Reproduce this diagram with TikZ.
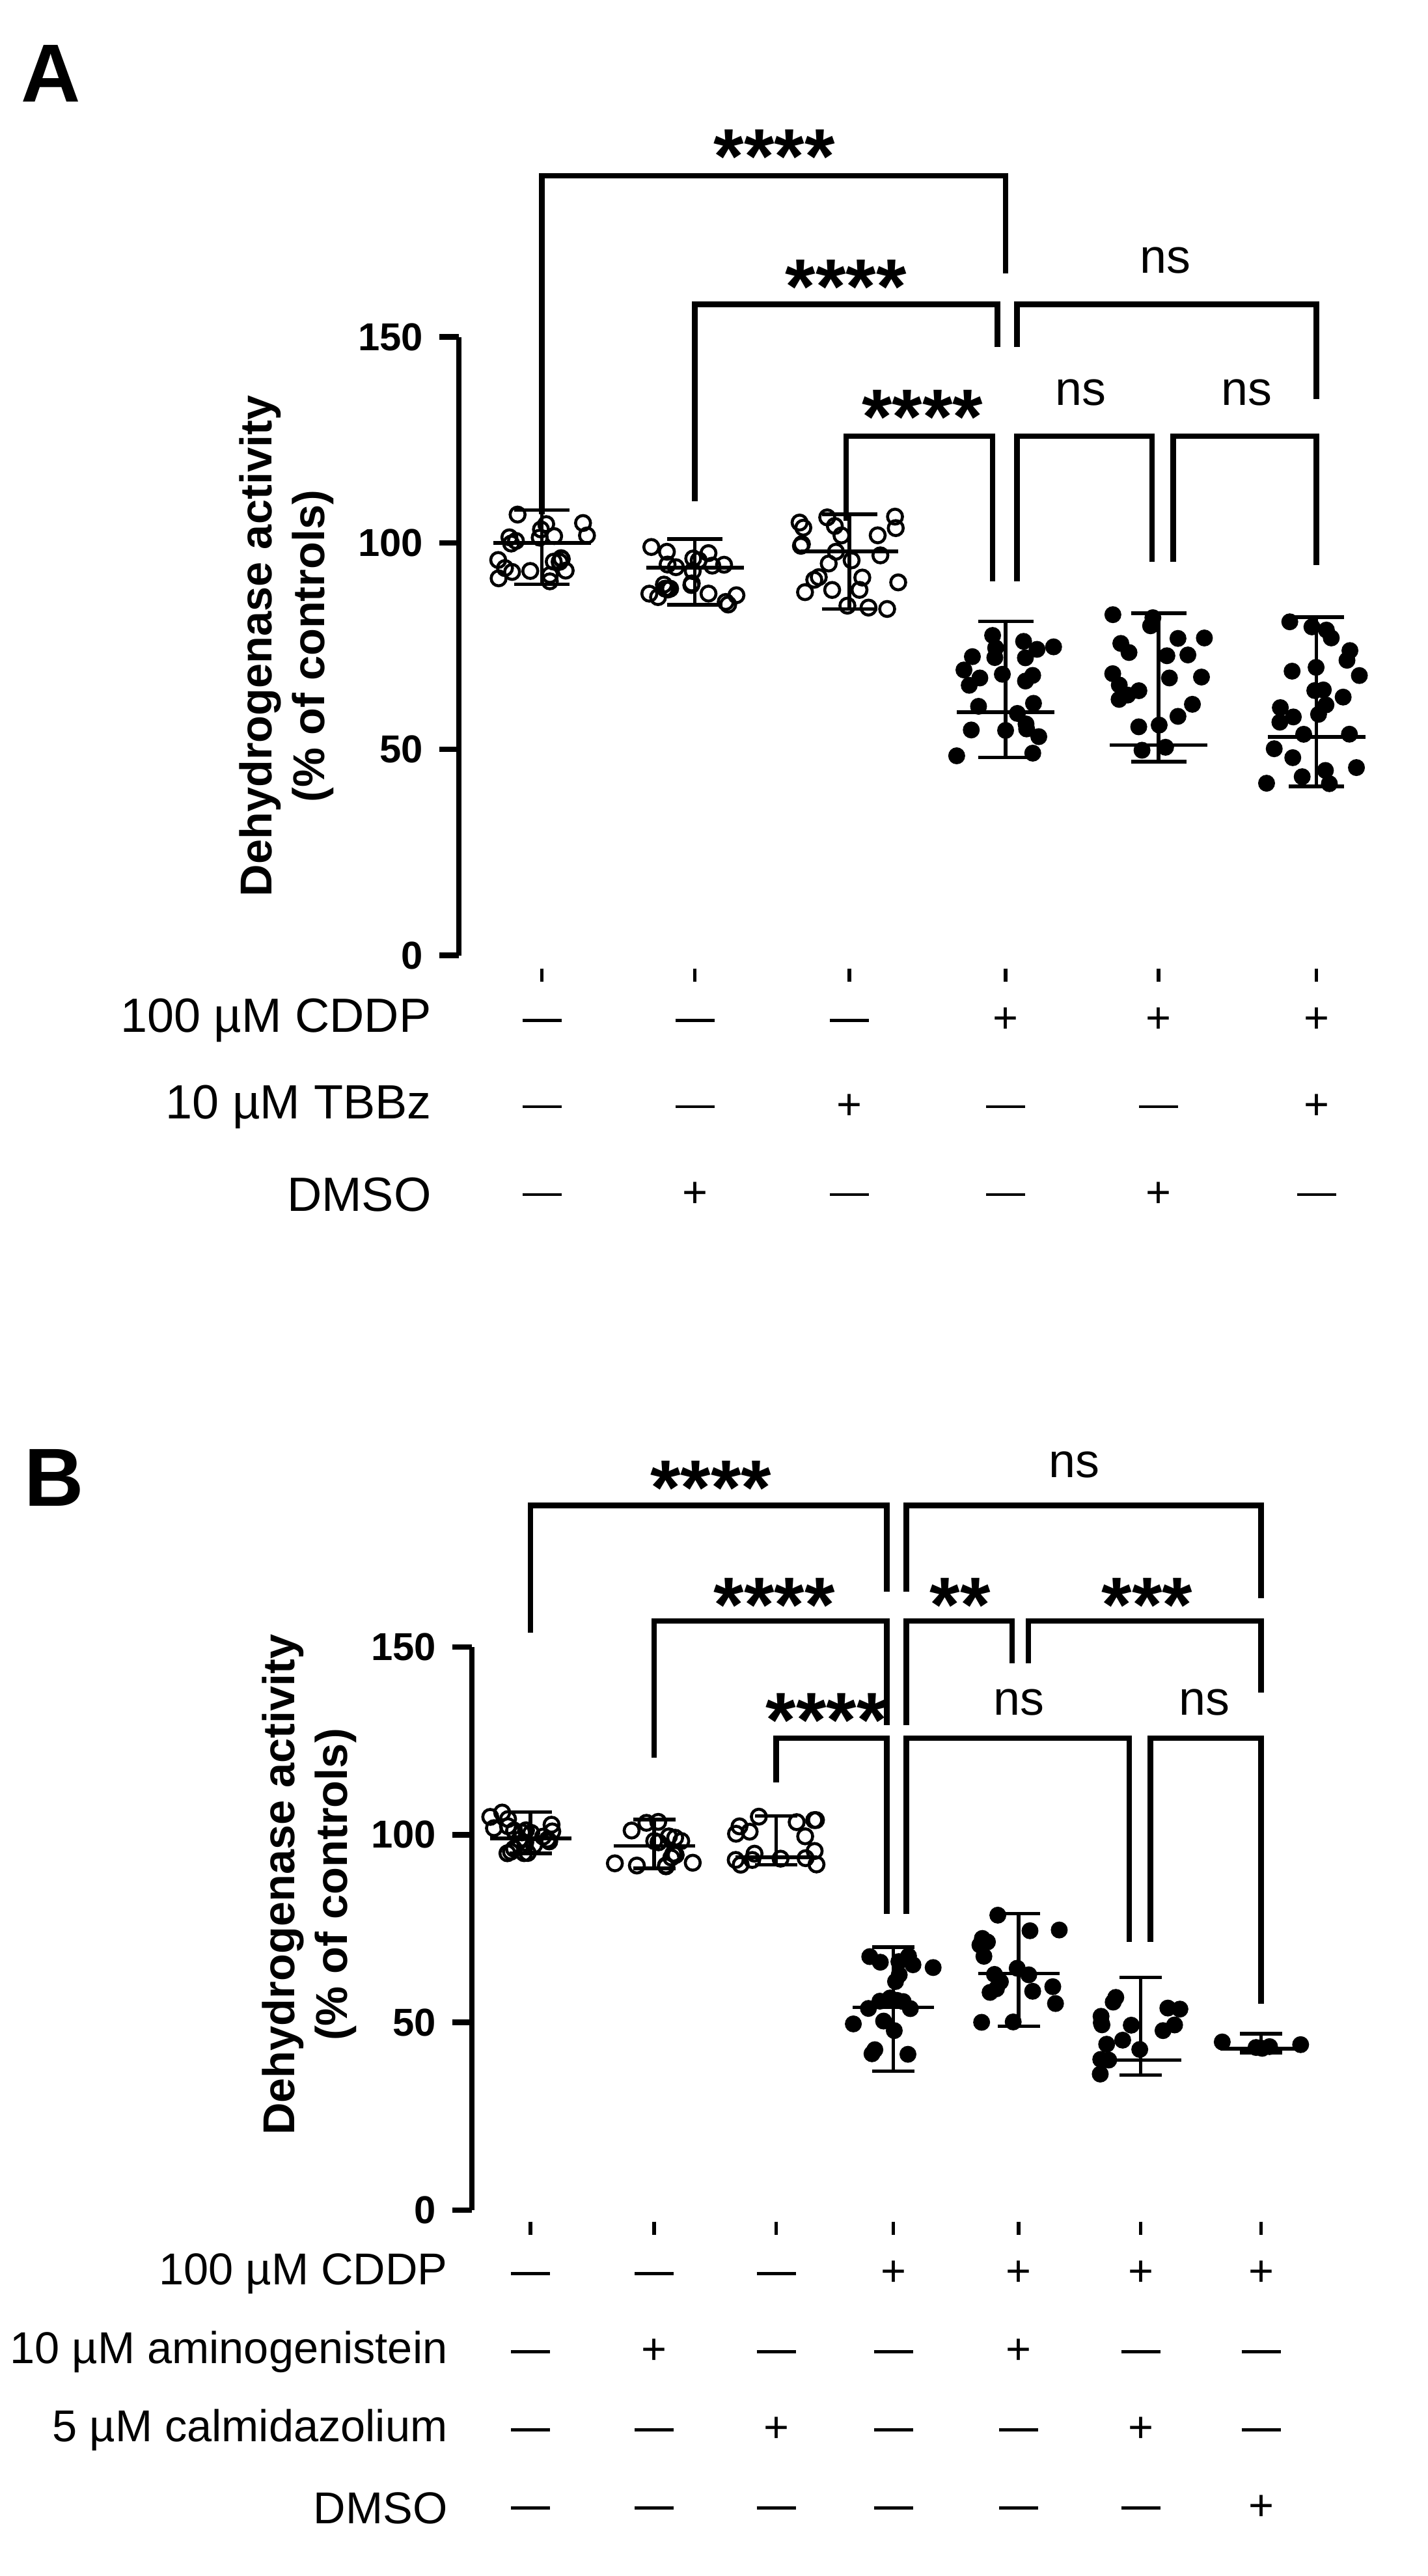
\documentclass[tikz,border=0pt]{standalone}
\usepackage{fontspec}
\setmainfont{Liberation Sans}
\usetikzlibrary{positioning}
\tikzset{
  axis/.style={line width=2.4pt},
  brk/.style={line width=2.4pt},
  bar/.style={line width=1.6pt},
  odot/.style={circle,draw,line width=1.3pt,inner sep=0pt,minimum size=0.23cm},
  fdot/.style={circle,fill,inner sep=0pt,minimum size=0.26cm},
  ticklbl/.style={font=\bfseries\fontsize{17}{19}\selectfont,anchor=east},
  rowlbl/.style={font=\fontsize{21}{24}\selectfont,anchor=east},
  cell/.style={font=\fontsize{19}{21}\selectfont},
  stars/.style={font=\bfseries\fontsize{34}{36}\selectfont},
  nslbl/.style={font=\fontsize{21}{24}\selectfont},
  panel/.style={font=\bfseries\fontsize{36}{40}\selectfont,anchor=west},
  ylbl/.style={font=\bfseries\fontsize{19.5}{23}\selectfont,rotate=90,align=center}
}
% bracket: x1, x2, top, left end, right end
\newcommand\sigbrk[5]{\draw[brk] (#1,#4) -- (#1,#3) -- (#2,#3) -- (#2,#5);}
\newcommand\nodash[2]{\draw[line width=1.3pt] (#1-12,#2) -- (#1+12,#2);}
\begin{document}
\begin{tikzpicture}[x=0.025cm,y=-0.025cm]
\useasboundingbox (0,0) rectangle (877.2,1582.8);
\pgfmathsetseed{11}

%% panel A
\node[panel] (labA) at (8,45) {A};
\draw[axis] (282,207) -- (282,587);
\foreach \v in {0,50,100,150}{
  \draw[axis] (270,587-2.533*\v) -- (282,587-2.533*\v);
  \node[ticklbl] (tA\v) at (265,587-2.533*\v) {\v};
}
\node[ylbl] (yA) at (176,397) {Dehydrogenase activity\\(\% of controls)};

\foreach \gx/\med/\lo/\hi/\n/\f in {333/100/90/108/22/0,427/94/85/101/22/0,522/98/84/107/24/0,618/59/48/81/24/1,712/51/47/83/22/1,809/53/41/82/26/1}{
  \draw[bar] (\gx,595) -- (\gx,603);
  \foreach \i in {1,...,\n}{
    \pgfmathsetmacro\v{\lo+(\hi-\lo)*rnd}
    \pgfmathsetmacro\dx{(rnd-0.5)*62}
    \ifnum\f=1 \node[fdot] at (\gx+\dx,587-2.533*\v) {};
    \else \node[odot] at (\gx+\dx,587-2.533*\v) {}; \fi
  }
  \draw[bar] (\gx,587-2.533*\lo) -- (\gx,587-2.533*\hi);
  \draw[bar] (\gx-17,587-2.533*\lo) -- (\gx+17,587-2.533*\lo);
  \draw[bar] (\gx-17,587-2.533*\hi) -- (\gx+17,587-2.533*\hi);
  \draw[bar] (\gx-30,587-2.533*\med) -- (\gx+30,587-2.533*\med);
}

\sigbrk{333}{618}{108}{316}{168}
\sigbrk{427}{613}{187}{308}{213}
\sigbrk{520}{610}{268}{320}{357}
\sigbrk{625}{809}{187}{213}{245}
\sigbrk{625}{708}{268}{357}{345}
\sigbrk{721}{809}{268}{345}{347}
\node[stars] (sA1) at (476,96) {****};
\node[stars] (sA2) at (520,176) {****};
\node[stars] (sA3) at (567,256) {****};
\node[nslbl] (nA1) at (716,160) {ns};
\node[nslbl] (nA2) at (664,241) {ns};
\node[nslbl] (nA3) at (766,241) {ns};

\node[rowlbl] (rA1) at (270,627) {100 µM CDDP};
\node[rowlbl] (rA2) at (270,680) {10 µM TBBz};
\node[rowlbl] (rA3) at (270,734) {DMSO};
\foreach \gx/\a/\b/\c in {333/0/0/0,427/0/0/1,522/0/1/0,618/1/0/0,712/1/0/1,809/1/1/0}{
  \foreach \s/\yy in {\a/627,\b/680,\c/734}{
    \ifnum\s=1 \node[cell] at (\gx,\yy) {+}; \else \nodash{\gx}{\yy} \fi
  }
}

%% panel B
\node[panel] (labB) at (10,908) {B};
\draw[axis] (290,1012) -- (290,1358);
\foreach \v in {0,50,100,150}{
  \draw[axis] (278,1358-2.307*\v) -- (290,1358-2.307*\v);
  \node[ticklbl] (tB\v) at (273,1358-2.307*\v) {\v};
}
\node[ylbl] (yB) at (190,1158) {Dehydrogenase activity\\(\% of controls)};

\foreach \gx/\med/\lo/\hi/\n/\f in {326/99/95/106/22/0,402/97/91/104/16/0,477/94/92/105/16/0,549/54/37/70/20/1,626/63/49/79/18/1,701/40/36/62/16/1,775/43/42/47/5/1}{
  \draw[bar] (\gx,1365) -- (\gx,1373);
  \foreach \i in {1,...,\n}{
    \pgfmathsetmacro\v{\lo+(\hi-\lo)*rnd}
    \pgfmathsetmacro\dx{(rnd-0.5)*50}
    \ifnum\f=1 \node[fdot] at (\gx+\dx,1358-2.307*\v) {};
    \else \node[odot] at (\gx+\dx,1358-2.307*\v) {}; \fi
  }
  \draw[bar] (\gx,1358-2.307*\lo) -- (\gx,1358-2.307*\hi);
  \draw[bar] (\gx-13,1358-2.307*\lo) -- (\gx+13,1358-2.307*\lo);
  \draw[bar] (\gx-13,1358-2.307*\hi) -- (\gx+13,1358-2.307*\hi);
  \draw[bar] (\gx-25,1358-2.307*\med) -- (\gx+25,1358-2.307*\med);
}

\sigbrk{326}{545}{925}{1003}{978}
\sigbrk{557}{775}{925}{978}{982}
\sigbrk{402}{545}{996}{1080}{1060}
\sigbrk{557}{622}{996}{1060}{1022}
\sigbrk{632}{775}{996}{1022}{1040}
\sigbrk{477}{545}{1068}{1095}{1176}
\sigbrk{557}{694}{1068}{1176}{1193}
\sigbrk{707}{775}{1068}{1193}{1231}
\node[stars] (sB1) at (437,914) {****};
\node[nslbl] (nB1) at (660,900) {ns};
\node[stars] (sB2) at (476,986) {****};
\node[stars] (sB3) at (590,986) {**};
\node[stars] (sB4) at (705,986) {***};
\node[stars] (sB5) at (508,1057) {****};
\node[nslbl] (nB2) at (626,1046) {ns};
\node[nslbl] (nB3) at (740,1046) {ns};

\begin{scope}[rowlbl/.append style={font=\fontsize{19.5}{22}\selectfont}]
\node[rowlbl] (rB1) at (280,1397) {100 µM CDDP};
\node[rowlbl] (rB2) at (280,1445) {10 µM aminogenistein};
\node[rowlbl] (rB3) at (280,1493) {5 µM calmidazolium};
\node[rowlbl] (rB4) at (280,1541) {DMSO};
\end{scope}
\foreach \gx/\a/\b/\c/\d in {326/0/0/0/0,402/0/1/0/0,477/0/0/1/0,549/1/0/0/0,626/1/1/0/0,701/1/0/1/0,775/1/0/0/1}{
  \foreach \s/\yy in {\a/1397,\b/1445,\c/1493,\d/1541}{
    \ifnum\s=1 \node[cell] at (\gx,\yy) {+}; \else \nodash{\gx}{\yy} \fi
  }
}
\end{tikzpicture}
\end{document}
